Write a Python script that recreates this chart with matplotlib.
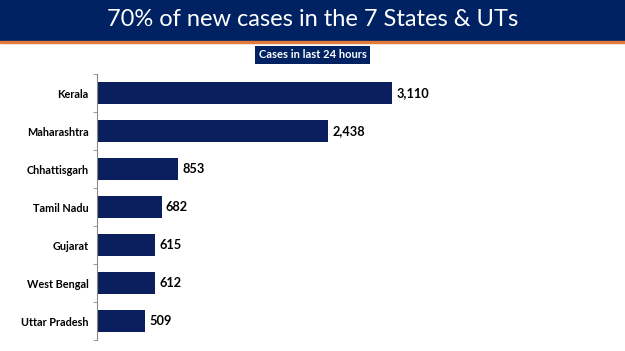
import matplotlib.pyplot as plt
from matplotlib.patches import Rectangle

states = ['Kerala', 'Maharashtra', 'Chhattisgarh', 'Tamil Nadu', 'Gujarat', 'West Bengal', 'Uttar Pradesh']
cases = [3110, 2438, 853, 682, 615, 612, 509]

navy = '#0b1f5e'
head = '#002263'

fig = plt.figure(figsize=(6.25, 3.51), dpi=100)

# header band
fig.patches.append(Rectangle((0, 1 - 41/351), 1, 41/351, transform=fig.transFigure, color=head, zorder=0))
fig.patches.append(Rectangle((0, 1 - 43/351), 1, 1.6/351, transform=fig.transFigure, color='#e07b3c', zorder=0))
fig.text(0.5, 1 - 20/351, '70% of new cases in the 7 States & UTs', color='white',
         fontsize=17, family='Lato', ha='center', va='center')
fig.text(312.5/625, 1 - 55/351, 'Cases in last 24 hours', color='white', fontsize=8,
         family='Lato', weight='bold', ha='center', va='center',
         bbox=dict(boxstyle='square,pad=0.35', fc=head, ec='none'))

ax = fig.add_axes([97/625, 11/351, 512/625, 266/351])
y = list(range(len(states)))
ax.barh(y, cases, height=0.6, color=navy)
ax.set_ylim(len(states) - 0.5, -0.5)
ax.set_xlim(0, 5400)
ax.set_yticks(y)
ax.set_yticklabels(states, fontsize=7.8, family='Lato', weight='bold')
ax.set_yticks([i - 0.5 for i in range(len(states) + 1)], minor=True)
ax.tick_params(axis='y', which='major', length=0, pad=6)
ax.tick_params(axis='y', which='minor', length=3, color='#888888', direction='out')
ax.set_xticks([])
for s in ['top', 'right', 'bottom']:
    ax.spines[s].set_visible(False)
ax.spines['left'].set_color('#888888')

for i, v in enumerate(cases):
    ax.text(v + 45, i, f'{v:,}', va='center', ha='left', fontsize=9.2, family='Lato', weight='bold')

fig.savefig('out.png', dpi=100)
